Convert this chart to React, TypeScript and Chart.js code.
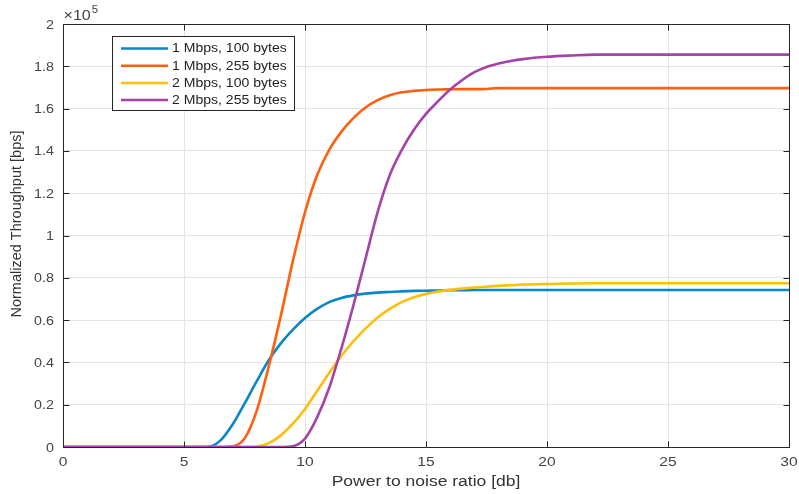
import React, { useEffect, useRef } from 'react';
import { Chart, registerables } from 'chart.js';

Chart.register(...registerables);

// Power to noise ratio [db]
const snrDb = [0, 5, 5.5, 6, 6.5, 7, 7.5, 8, 8.5, 9, 9.5, 10, 10.5, 11, 11.5, 12, 12.5, 13, 13.5, 14, 14.5, 15, 15.5, 16, 16.5, 17, 17.5, 18, 18.5, 19, 20, 21, 22, 25, 30];

// Normalized throughput [bps]
const tput1M100 = [0, 0, 0, 100, 3000, 10500, 20500, 31000, 41000, 49000, 55500, 61000, 65300, 68500, 70500, 71700, 72500, 73000, 73300, 73600, 73800, 73900, 74000, 74100, 74100, 74200, 74200, 74200, 74200, 74200, 74200, 74200, 74200, 74200, 74200];
const tput1M255 = [0, 0, 0, 0, 0, 300, 4000, 17000, 38000, 62000, 88000, 111000, 128500, 140500, 149000, 155500, 160500, 164000, 166300, 167700, 168400, 168800, 169000, 169100, 169200, 169200, 169300, 169700, 169700, 169700, 169700, 169700, 169700, 169700, 169700];
const tput2M100 = [0, 0, 0, 0, 0, 0, 0, 200, 1800, 5500, 11000, 18000, 26500, 35000, 43000, 50000, 56000, 61200, 65300, 68500, 70800, 72400, 73500, 74300, 74900, 75400, 75800, 76200, 76500, 76800, 77100, 77300, 77400, 77400, 77400];
const tput2M255 = [0, 0, 0, 0, 0, 0, 0, 0, 0, 0, 400, 4000, 14000, 28000, 46500, 67000, 89000, 111000, 128500, 140500, 150000, 157500, 163500, 169000, 173500, 177200, 179700, 181300, 182500, 183400, 184500, 185100, 185500, 185500, 185500];

const seriesLabels = ['1 Mbps, 100 bytes', '1 Mbps, 255 bytes', '2 Mbps, 100 bytes', '2 Mbps, 255 bytes'];
const seriesValues = [tput1M100, tput1M255, tput2M100, tput2M255];
const seriesColors = ['#0a86cc', '#ff5f0f', '#ffbd0c', '#a444a6'];

const xTickValues = [0, 5, 10, 15, 20, 25, 30];
const yTickValues = [0, 20000, 40000, 60000, 80000, 100000, 120000, 140000, 160000, 180000, 200000];
const xTitle = 'Power to noise ratio [db]';
const yTitle = 'Normalized Throughput [bps]';

const FONT = '"Liberation Sans", Arial, Helvetica, sans-serif';
const AXIS_COLOR = '#262626';
const TEXT_COLOR = '#444';
const SX = 1.2; // horizontal text stretch seen in the reference

function stretchedText(ctx: CanvasRenderingContext2D, text: string, x: number, y: number, align: 'left' | 'center' | 'right', sx: number) {
  const w = ctx.measureText(text).width * sx;
  let left = x;
  if (align === 'center') left = x - w / 2;
  else if (align === 'right') left = x - w;
  ctx.save();
  ctx.translate(left, y);
  ctx.scale(sx, 1);
  ctx.textAlign = 'left';
  ctx.fillText(text, 0, 0);
  ctx.restore();
}

const boxPlugin = {
  id: 'matlabBox',
  afterDatasetsDraw(chart: any) {
    const { ctx, chartArea: a, scales } = chart;
    ctx.save();
    ctx.strokeStyle = AXIS_COLOR;
    ctx.lineWidth = 1;
    const L = Math.round(a.left) + 0.5;
    const R = Math.round(a.right) + 0.5;
    const T = Math.round(a.top) + 0.5;
    const B = Math.round(a.bottom) + 0.5;
    ctx.beginPath();
    ctx.rect(L, T, R - L, B - T);
    ctx.stroke();
    const tl = 6;
    ctx.beginPath();
    xTickValues.forEach((v) => {
      const px = Math.round(scales.x.getPixelForValue(v)) + 0.5;
      ctx.moveTo(px, B);
      ctx.lineTo(px, B - tl);
      ctx.moveTo(px, T);
      ctx.lineTo(px, T + tl);
    });
    yTickValues.forEach((v) => {
      const py = Math.round(scales.y.getPixelForValue(v)) + 0.5;
      ctx.moveTo(L, py);
      ctx.lineTo(L + tl, py);
      ctx.moveTo(R, py);
      ctx.lineTo(R - tl, py);
    });
    ctx.stroke();

    // tick labels
    ctx.fillStyle = TEXT_COLOR;
    ctx.font = `13px ${FONT}`;
    ctx.textBaseline = 'middle';
    xTickValues.forEach((v) => {
      stretchedText(ctx, String(v), scales.x.getPixelForValue(v), 462, 'center', SX);
    });
    yTickValues.forEach((v) => {
      const label = String(Number((v / 1e5).toFixed(1)));
      stretchedText(ctx, label, 54, scales.y.getPixelForValue(v) + 1, 'right', 1.1);
    });

    // axis titles
    ctx.fillStyle = '#333';
    ctx.font = `14px ${FONT}`;
    stretchedText(ctx, xTitle, (a.left + a.right) / 2, 482, 'center', 1.25);
    ctx.save();
    ctx.translate(17, 224);
    ctx.rotate(-Math.PI / 2);
    ctx.font = `14.5px ${FONT}`;
    ctx.textAlign = 'center';
    ctx.fillText(yTitle, 0, 0);
    ctx.restore();

    // exponent label
    ctx.fillStyle = TEXT_COLOR;
    ctx.textBaseline = 'alphabetic';
    ctx.font = `14px ${FONT}`;
    stretchedText(ctx, '\u00d710', L, T - 5, 'left', 1.15);
    const w = ctx.measureText('\u00d710').width * 1.15;
    ctx.font = `10px ${FONT}`;
    stretchedText(ctx, '5', L + w + 1, T - 12, 'left', 1.15);

    // legend
    const lx = 112.5, ly = 36.5, lw = 182, lh = 74;
    ctx.fillStyle = '#ffffff';
    ctx.fillRect(lx, ly, lw, lh);
    ctx.strokeStyle = AXIS_COLOR;
    ctx.lineWidth = 1;
    ctx.strokeRect(lx, ly, lw, lh);
    ctx.font = `12px ${FONT}`;
    ctx.textBaseline = 'middle';
    chart.data.datasets.forEach((ds: any, i: number) => {
      const cy = 48.5 + i * 17.2;
      ctx.strokeStyle = ds.borderColor;
      ctx.lineWidth = 2.5;
      ctx.beginPath();
      ctx.moveTo(121, cy);
      ctx.lineTo(168, cy);
      ctx.stroke();
      ctx.fillStyle = '#222';
      stretchedText(ctx, ds.label, 172, cy + 0.5, 'left', 1.17);
    });
    ctx.restore();
  },
};

export default function App() {
  const canvasRef = useRef<HTMLCanvasElement | null>(null);

  useEffect(() => {
    document.body.style.margin = '0';
    const canvas = canvasRef.current;
    if (!canvas) return;
    const chart = new Chart(canvas, {
      type: 'line',
      data: {
        datasets: seriesLabels.map((label, i) => ({
          label,
          data: snrDb.map((x, j) => ({ x, y: seriesValues[i][j] })),
          borderColor: seriesColors[i],
          backgroundColor: seriesColors[i],
          borderWidth: 2.6,
          pointRadius: 0,
          cubicInterpolationMode: 'monotone' as const,
          fill: false,
          order: 4 - i,
        })),
      },
      options: {
        animation: false,
        responsive: false,
        maintainAspectRatio: false,
        layout: { padding: { top: 24, right: 10, left: 0, bottom: 0 } },
        plugins: {
          legend: { display: false },
          tooltip: { enabled: false },
        },
        scales: {
          x: {
            type: 'linear',
            min: 0,
            max: 30,
            afterFit: (s: any) => { s.height = 47; s.paddingLeft = 0; s.paddingRight = 0; },
            afterBuildTicks: (s: any) => { s.ticks = xTickValues.map((v) => ({ value: v })); },
            grid: { color: '#e4e4e4', drawTicks: false, lineWidth: 1 },
            border: { display: false },
            ticks: { display: false },
            title: { display: false },
          },
          y: {
            type: 'linear',
            min: 0,
            max: 200000,
            afterFit: (s: any) => { s.width = 63; s.paddingTop = 0; s.paddingBottom = 0; },
            afterBuildTicks: (s: any) => { s.ticks = yTickValues.map((v) => ({ value: v })); },
            grid: { color: '#e4e4e4', drawTicks: false, lineWidth: 1 },
            border: { display: false },
            ticks: { display: false },
            title: { display: false },
          },
        },
      },
      plugins: [boxPlugin],
    });
    return () => chart.destroy();
  }, []);

  return (
    <div style={{ width: 799, height: 494, background: '#fff' }}>
      <canvas ref={canvasRef} width={799} height={494} style={{ display: 'block', width: 799, height: 494 }} />
    </div>
  );
}
